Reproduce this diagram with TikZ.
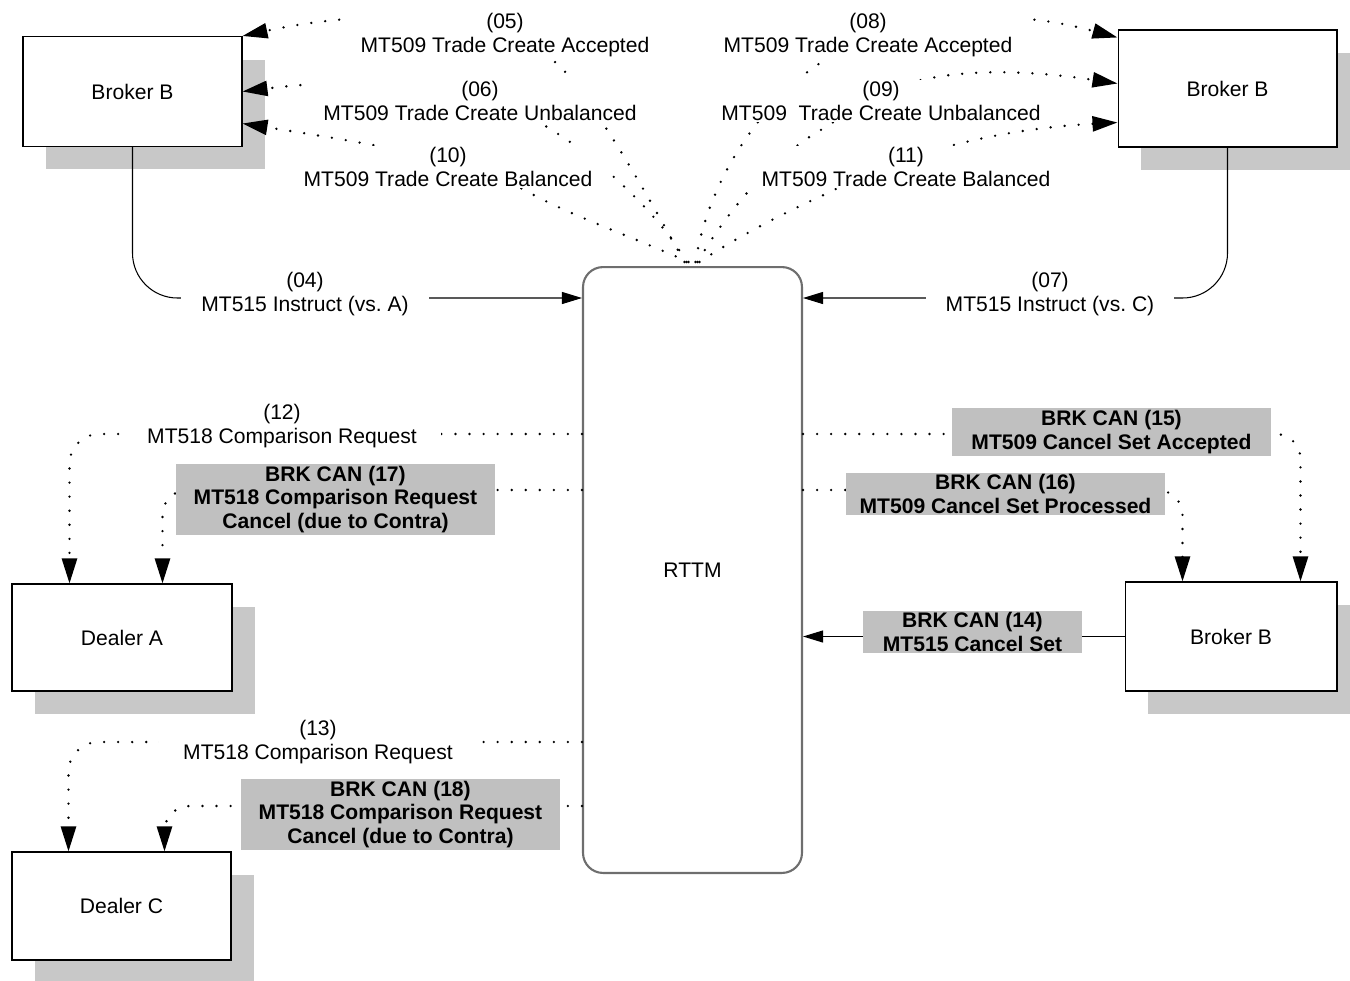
\documentclass[tikz,border=0pt]{standalone}
\usepackage{fontspec}
\setmainfont{Liberation Sans}
\usetikzlibrary{arrows.meta, calc, positioning, shadows}
\definecolor{shadowgray}{RGB}{200,200,200}
\definecolor{cancelgray}{RGB}{192,192,192}
\definecolor{rttmgray}{RGB}{110,110,110}
\tikzstyle{party}=[draw, fill=white, line width=0.6pt, minimum width=4.38cm, minimum height=2.2cm, drop shadow={shadow xshift=0.46cm, shadow yshift=-0.46cm, fill=shadowgray, opacity=1}]
\tikzstyle{flow}=[draw, line width=0.6pt, -{Triangle[length=0.4cm, width=0.24cm]}]
\tikzstyle{dots}=[draw, line width=1.5pt, line cap=round, dash pattern=on 0pt off 8pt, -{Triangle[length=0.5cm, width=0.3cm]}]
\tikzstyle{msg}=[fill=white, align=center, inner xsep=0.25cm, inner ysep=1pt]
\tikzstyle{cancelmsg}=[fill=cancelgray, align=center, font=\bfseries\fontsize{12}{13.6}\selectfont, minimum width=6.38cm, inner sep=1pt]
\frenchspacing

\begin{document}
\begin{tikzpicture}[x=0.02cm, y=-0.02cm, font=\fontsize{12}{13.6}\selectfont]
  \useasboundingbox (0,0) rectangle (1350,981);
  \node[party] (brokerTL) at (132.5,91.5) {Broker B};
  \node[party, minimum height=2.34cm] (brokerTR) at (1227.5,88.5) {Broker B};
  \node[party, minimum height=2.14cm, minimum width=4.4cm] (dealerA) at (122,637.5) {Dealer A};
  \node[party, minimum height=2.16cm] (dealerC) at (121.5,906) {Dealer C};
  \node[party, minimum height=2.18cm, minimum width=4.24cm] (brokerBR) at (1231,636.5) {Broker B};
  \node[draw=rttmgray, line width=1.2pt, rounded corners=0.4cm, minimum width=4.38cm, minimum height=12.12cm] (rttm) at (692.5,570) {RTTM};

  \draw[flow, rounded corners=0.9cm] (brokerTL.south) |- (rttm.west |- 0,298);
  \draw[flow, rounded corners=0.9cm] (brokerTR.south) |- (rttm.east |- 0,298);
  \draw[flow] (brokerBR.west) -- (rttm.east |- brokerBR.west);

  \draw[dots] ($(rttm.north)+(-8,-4)$) .. controls (650,200) and (600,110) .. (560,66) .. controls (480,0) and (340,15) .. (brokerTL.north east);
  \draw[dots] ($(rttm.north)+(-6,-4)$) .. controls (660,215) and (600,160) .. (555,132) .. controls (500,95) and (400,72) .. (brokerTL.east);
  \draw[dots] ($(rttm.north)+(-4,-4)$) .. controls (640,240) and (570,215) .. (530,193) .. controls (470,160) and (380,145) .. ($(brokerTL.east)+(0,32)$);
  \draw[dots] ($(rttm.north)+(3,-4)$) .. controls (705,200) and (740,130) .. (800,78) .. controls (850,35) and (960,-5) .. ($(brokerTR.north west)+(0,8)$);
  \draw[dots] ($(rttm.north)+(5,-4)$) .. controls (740,190) and (790,145) .. (830,125) .. controls (880,80) and (960,60) .. ($(brokerTR.west)+(0,-5)$);
  \draw[dots] ($(rttm.north)+(7,-4)$) .. controls (740,235) and (790,210) .. (830,192) .. controls (890,160) and (980,130) .. ($(brokerTR.west)+(0,34)$);

  \draw[dots, rounded corners=0.6cm] (rttm.west |- 0,434) -| ($(dealerA.north west)+(58,0)$);
  \draw[dots, rounded corners=0.5cm] (rttm.west |- 0,490) -| ($(dealerA.north west)+(151,0)$);
  \draw[dots, rounded corners=0.6cm] (rttm.west |- 0,742) -| ($(dealerC.north west)+(57,0)$);
  \draw[dots, rounded corners=0.5cm] (rttm.west |- 0,806) -| ($(dealerC.north west)+(153,0)$);
  \draw[dots, rounded corners=0.5cm] (rttm.east |- 0,434) -| ($(brokerBR.north west)+(176,0)$);
  \draw[dots, rounded corners=0.5cm] (rttm.east |- 0,490) -| ($(brokerBR.north west)+(58,0)$);

  \node[msg, inner xsep=0.4cm] (m04) at (305,294) {(04)\\MT515 Instruct (vs. A)};
  \node[msg, inner xsep=0.4cm] (m07) at (1050,294) {(07)\\MT515 Instruct (vs. C)};
  \node[msg] (m05) at (505,35) {(05)\\MT509 Trade Create Accepted};
  \node[msg] (m06) at (480,101) {(06)\\MT509 Trade Create Unbalanced};
  \node[msg] (m10) at (448,167) {(10)\\MT509 Trade Create Balanced};
  \node[msg] (m08) at (868,35) {(08)\\MT509 Trade Create Accepted};
  \node[msg] (m09) at (881,101) {(09)\\MT509\ \ Trade Create Unbalanced};
  \node[msg] (m11) at (906,167) {(11)\\MT509 Trade Create Balanced};
  \node[msg, inner xsep=0.48cm] (m12) at (282,426) {(12)\\MT518 Comparison Request};
  \node[msg, inner xsep=0.48cm] (m13) at (318,742) {(13)\\MT518 Comparison Request};

  \node[cancelmsg] (c14) at (972.5,632) [minimum width=4.38cm] {BRK CAN (14)\\MT515 Cancel Set};
  \node[cancelmsg] (c15) at (1111.5,432) {BRK CAN (15)\\MT509 Cancel Set Accepted};
  \node[cancelmsg] (c16) at (1005.5,494) {BRK CAN (16)\\MT509 Cancel Set Processed};
  \node[cancelmsg] (c17) at (335.5,499.5) {BRK CAN (17)\\MT518 Comparison Request\\Cancel (due to Contra)};
  \node[cancelmsg] (c18) at (400.5,814.5) {BRK CAN (18)\\MT518 Comparison Request\\Cancel (due to Contra)};
\end{tikzpicture}
\end{document}
